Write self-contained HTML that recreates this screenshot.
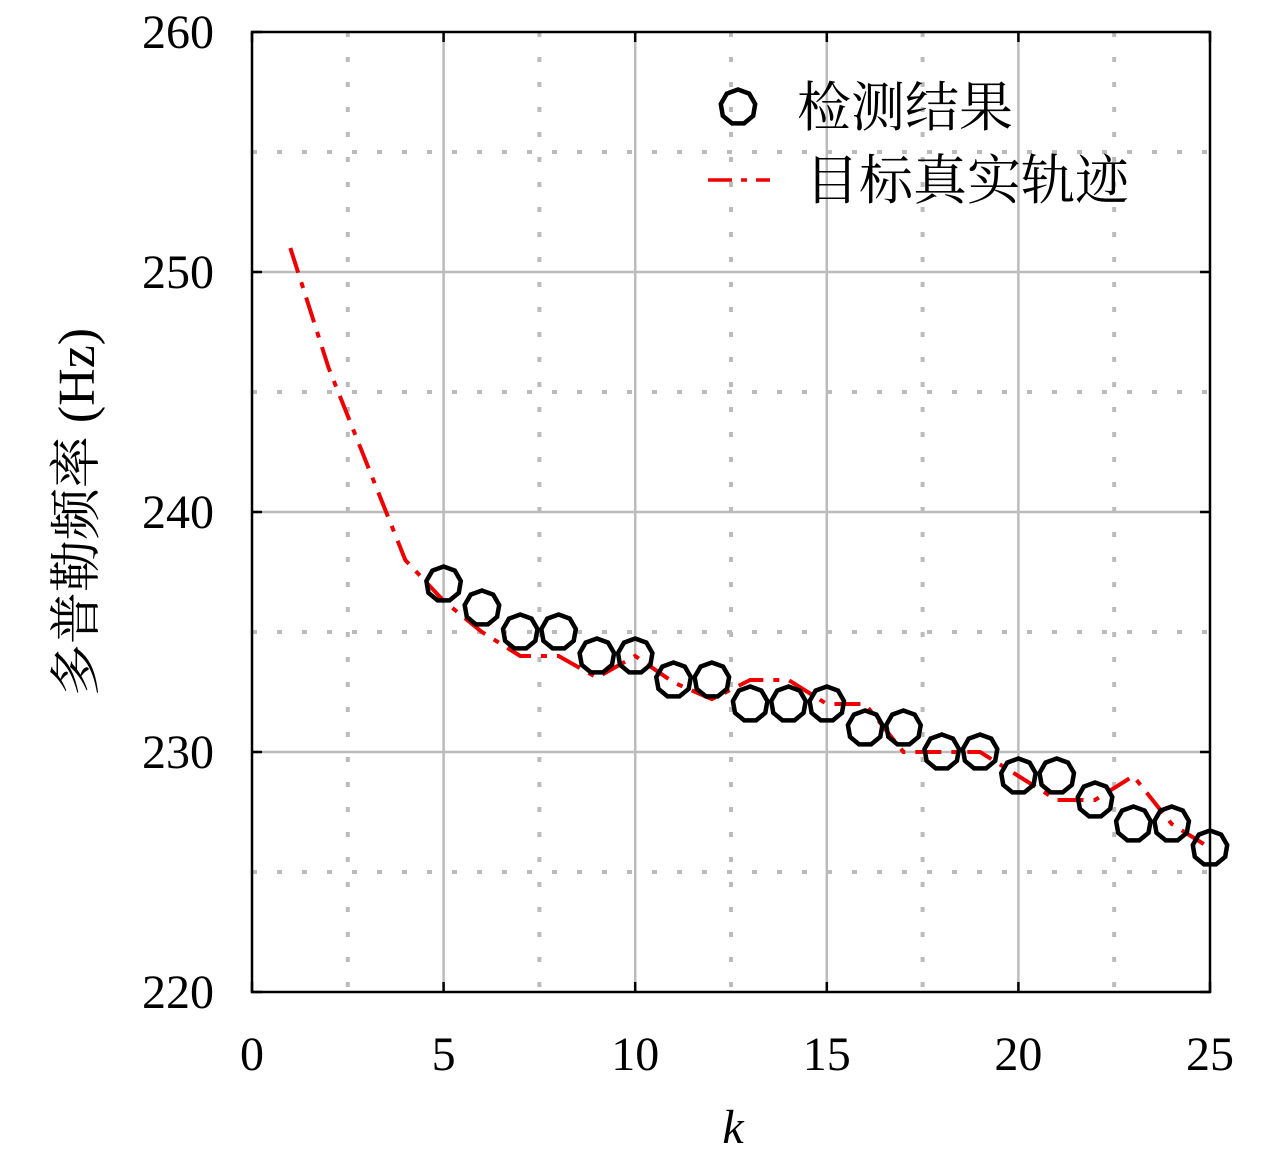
<!DOCTYPE html>
<html><head><meta charset="utf-8"><style>
body{margin:0;background:#fff;}
svg text{font-family:"Liberation Serif","Noto Serif CJK SC",serif;}
</style></head><body>
<svg width="1280" height="1161" viewBox="0 0 1280 1161">
<g id="grid"></g>
<g id="series"></g>
<rect x="252" y="32" width="958" height="960" fill="none" stroke="#000" stroke-width="2.5"/>
<g id="ticks"></g>
<text x="733" y="1143" font-size="48" font-style="italic" text-anchor="middle">k</text>
<text transform="translate(94,512) rotate(-90)" font-size="52" text-anchor="middle">多普勒频率 (Hz)</text>
<g>
<polygon id="legmark" fill="none" stroke="#000" stroke-width="4.5"/>
<text x="797" y="126" font-size="54">检测结果</text>
<line x1="708" y1="180" x2="770" y2="180" stroke="#e00" stroke-width="3.5" stroke-dasharray="24,9,6,9"/>
<text x="805" y="199" font-size="54">目标真实轨迹</text>
</g>
</svg>
<script>
const detK=[5,6,7,8,9,10,11,12,13,14,15,16,17,18,19,20,21,22,23,24,25];
const detVal=[237,236,235,235,234,234,233,233,232,232,232,231,231,230,230,229,229,228,227,227,226];
const trueK=[1,2,3,4,5,6,7,8,9,10,11,12,13,14,15,16,17,18,19,20,21,22,23,24,25];
const trueVal=[251,246,242,238,236.3,235,234,234,233.1,234,232.9,232.2,233,233,232,232,230,230,230,229,228,228,229,227,226];
const xTicks=[0,5,10,15,20,25];
const yTicks=[220,230,240,250,260];
const NS='http://www.w3.org/2000/svg';
const X=k=>252+k*958/25, Y=v=>992-(v-220)*24;
function mk(t,a,p){const e=document.createElementNS(NS,t);for(const k in a)e.setAttribute(k,a[k]);p.appendChild(e);return e;}
const grid=document.getElementById('grid'),ser=document.getElementById('series'),tk=document.getElementById('ticks');
for(let k=2.5;k<25;k+=2.5){const maj=k%5===0;
const l=mk('line',{x1:X(k),x2:X(k),y1:32,y2:992,stroke:'#bbb','stroke-width':maj?2.5:4,'stroke-dasharray':maj?'none':'5,20'},grid);

}
for(let v=225;v<260;v+=5){const maj=v%10===0;
const l=mk('line',{y1:Y(v),y2:Y(v),x1:252,x2:1210,stroke:'#bbb','stroke-width':maj?2.5:4,'stroke-dasharray':maj?'none':'5,20'},grid);

}
xTicks.forEach(k=>{mk('line',{x1:X(k),x2:X(k),y1:992,y2:982,stroke:'#000','stroke-width':2.5},tk);mk('line',{x1:X(k),x2:X(k),y1:32,y2:42,stroke:'#000','stroke-width':2.5},tk);
const t=mk('text',{x:X(k),y:1070,'font-size':48,'text-anchor':'middle'},tk);t.textContent=k;

});
yTicks.forEach(v=>{mk('line',{x1:252,x2:262,y1:Y(v),y2:Y(v),stroke:'#000','stroke-width':2.5},tk);mk('line',{x1:1200,x2:1210,y1:Y(v),y2:Y(v),stroke:'#000','stroke-width':2.5},tk);
const t=mk('text',{x:214,y:Y(v)+16,'font-size':48,'text-anchor':'end'},tk);t.textContent=v;

});
const pl=mk('polyline',{points:trueK.map((k,i)=>X(k)+','+Y(trueVal[i])).join(' '),fill:'none',stroke:'#e00','stroke-width':4,'stroke-dasharray':'26,10,6,10'},ser);


function poly(cx,cy,r){let s=[];for(let i=0;i<9;i++){const a=-Math.PI/2+i*2*Math.PI/9;s.push((cx+r*Math.cos(a)).toFixed(1)+','+(cy+r*Math.sin(a)).toFixed(1));}return s.join(' ');}
detK.forEach((k,i)=>{const p=mk('polygon',{points:poly(X(k),Y(detVal[i]),17.5),fill:'none',stroke:'#000','stroke-width':4.5},ser);

});
document.getElementById('legmark').setAttribute('points',poly(738,107,17.5));
</script>
</body></html>
